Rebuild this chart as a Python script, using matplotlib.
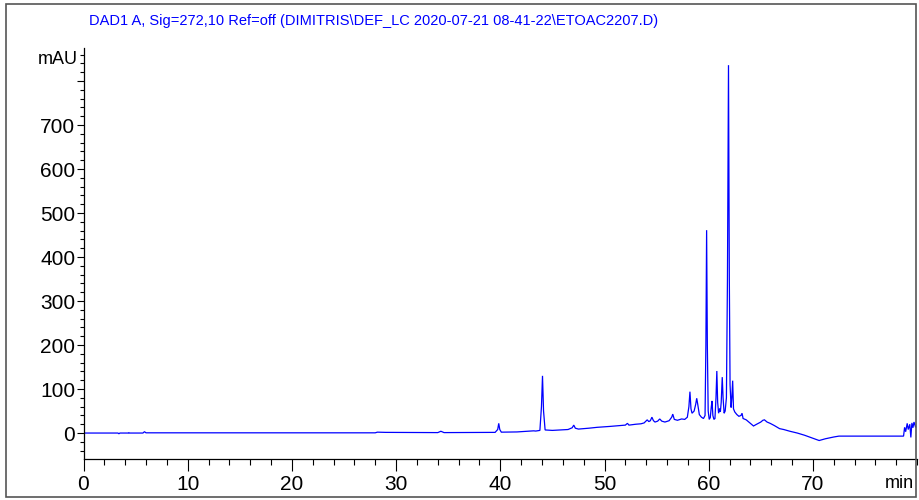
import matplotlib
matplotlib.use("Agg")
import matplotlib.pyplot as plt
from matplotlib.patches import Rectangle
from matplotlib.ticker import MultipleLocator, FixedLocator, FixedFormatter

# Chromatogram trace: retention time (min) and detector signal (mAU)
times = [
    0.0, 3.3, 3.4, 3.5, 4.3, 4.35, 4.4, 5.7, 5.85, 6.0, 28.0, 28.2, 29.0,
    34.0, 34.3, 34.6, 39.5, 39.75, 39.85, 39.95, 40.1, 41.6, 43.2, 43.4,
    43.8, 43.95, 44.05, 44.15, 44.3, 45.0, 46.5, 46.9, 47.05, 47.2, 47.5,
    48.5, 49.3, 50.5, 51.5, 52.0, 52.2, 52.35, 53.0, 53.5, 53.8, 54.1,
    54.25, 54.4, 54.55, 54.7, 54.85, 55.1, 55.3, 55.5, 55.8, 56.2, 56.45,
    56.55, 56.7, 57.0, 57.4, 57.7, 57.95, 58.1, 58.2, 58.3, 58.4, 58.6,
    58.75, 58.85, 58.95, 59.1, 59.3, 59.5, 59.65, 59.73, 59.8, 59.87,
    59.95, 60.05, 60.15, 60.25, 60.32, 60.4, 60.5, 60.6, 60.7, 60.78,
    60.86, 60.95, 61.05, 61.12, 61.2, 61.3, 61.38, 61.48, 61.58, 61.7,
    61.8, 61.9, 61.98, 62.05, 62.15, 62.22, 62.3, 62.38, 62.5, 62.7, 62.9,
    63.1, 63.2, 63.3, 63.6, 64.0, 64.3, 64.6, 65.0, 65.2, 65.35, 65.6,
    65.9, 66.3, 66.8, 67.2, 67.8, 68.5, 69.2, 70.0, 70.6, 71.2, 72.0,
    72.5, 78.7, 78.8, 78.9, 79.05, 79.15, 79.3, 79.4, 79.5, 79.6, 79.7,
    79.85,
]
signal = [
    0.0, 0.0, -1.5, 0.0, 0.0, 1.0, 0.0, 0.0, 3.0, 0.5, 0.5, 2.0, 1.5,
    1.0, 4.0, 1.0, 1.5, 8.0, 22.0, 8.0, 2.0, 2.5, 5.0, 4.5,
    6.0, 60.0, 130.0, 50.0, 7.0, 6.0, 8.0, 12.0, 18.0, 11.0, 9.0,
    11.0, 13.0, 15.0, 17.0, 18.0, 22.0, 18.0, 20.0, 21.0, 23.0, 30.0,
    26.0, 28.0, 36.0, 28.0, 25.0, 27.0, 32.0, 27.0, 25.0, 28.0, 36.0,
    43.0, 31.0, 29.0, 32.0, 31.0, 36.0, 60.0, 94.0, 55.0, 45.0, 50.0,
    65.0, 79.0, 65.0, 42.0, 36.0, 33.0, 40.0, 200.0, 461.0, 200.0,
    50.0, 31.0, 35.0, 60.0, 73.0, 40.0, 31.0, 33.0, 80.0, 141.0,
    70.0, 45.0, 56.0, 48.0, 70.0, 127.0, 80.0, 45.0, 50.0, 80.0,
    350.0, 836.0, 350.0, 110.0, 58.0, 80.0, 119.0, 55.0, 48.0, 42.0, 38.0,
    40.0, 45.0, 33.0, 30.0, 22.0, 16.0, 20.0, 25.0, 29.0, 30.0, 25.0,
    22.0, 17.0, 10.0, 8.0, 4.0, 0.0, -5.0, -12.0, -17.0, -13.0, -9.0,
    -7.0, -7.0, 13.0, 3.0, 22.0, 8.0, 20.0, -10.0, 23.0, 12.0, 25.0,
    14.0,
]

y_major = [0, 100, 200, 300, 400, 500, 600, 700, 800]
y_labels = ["0", "100", "200", "300", "400", "500", "600", "700", ""]
x_major = [0, 10, 20, 30, 40, 50, 60, 70]
x_labels = ["0", "10", "20", "30", "40", "50", "60", "70"]

title = "DAD1 A, Sig=272,10 Ref=off (DIMITRIS\\DEF_LC 2020-07-21 08-41-22\\ETOAC2207.D)"

FONT = ["Liberation Sans Narrow", "Liberation Sans", "DejaVu Sans"]
plt.rcParams["font.family"] = FONT

W, H = 919, 500
fig = plt.figure(figsize=(W / 100, H / 100), dpi=100)

# axes placement in pixels
px_left, px_right, px_bottom, px_top = 83.5, 917.1, 459, 48
ax = fig.add_axes([px_left / W, 1 - px_bottom / H,
                   (px_right - px_left) / W, (px_bottom - px_top) / H])

ax.plot(times, signal, color="#0000ff", lw=0.9, solid_joinstyle="miter")

ax.set_xlim(0, 80)
ax.set_ylim(-59, 875)

for side in ("top", "right"):
    ax.spines[side].set_visible(False)
for side in ("left", "bottom"):
    ax.spines[side].set_linewidth(0.9)
    ax.spines[side].set_color("black")

ax.xaxis.set_major_locator(FixedLocator(x_major))
ax.xaxis.set_major_formatter(FixedFormatter(x_labels))
ax.xaxis.set_minor_locator(MultipleLocator(2))
ax.yaxis.set_major_locator(FixedLocator(y_major))
ax.yaxis.set_major_formatter(FixedFormatter(y_labels))
ax.yaxis.set_minor_locator(MultipleLocator(20))

ax.tick_params(axis="x", which="major", direction="out", length=8.6, width=0.8,
               labelsize=15, pad=3)
ax.tick_params(axis="x", which="minor", direction="out", length=4.3, width=0.8)
ax.tick_params(axis="y", which="major", direction="out", length=5, width=0.8,
               labelsize=15, pad=1)
ax.tick_params(axis="y", which="minor", direction="out", length=3, width=0.8)

# unit labels
fig.text(78 / W, 1 - 60 / H, "mAU", ha="right", va="center", fontsize=13)
fig.text(914 / W, 1 - 484 / H, "min", ha="right", va="center", fontsize=13)

# signal description
fig.text(89 / W, 1 - 21 / H, title, ha="left", va="center", fontsize=10.5,
         color="#0000ff")

# outer frame
fig.patches.append(Rectangle((6 / W, 3 / H), (916 - 6) / W, (497 - 4) / H,
                             transform=fig.transFigure, fill=False,
                             edgecolor="#555555", lw=1.2))

fig.savefig("out.png", dpi=100)
